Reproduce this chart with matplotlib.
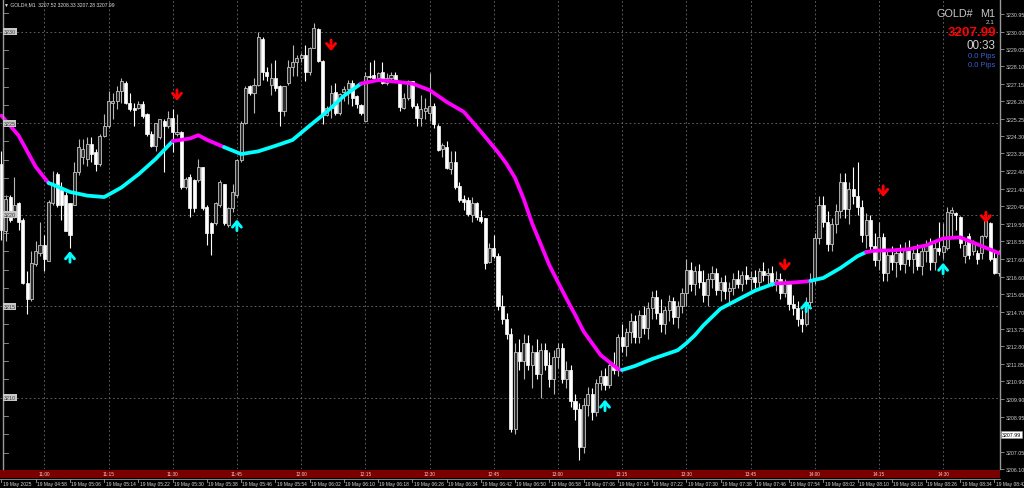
import numpy as np
import matplotlib
matplotlib.use('Agg')
import matplotlib.pyplot as plt
from matplotlib.transforms import blended_transform_factory
from matplotlib.patches import Rectangle

plt.rcParams['font.family'] = ['Liberation Sans', 'DejaVu Sans']

# ---- M1 candles, GOLD#, 10:50 .. 14:43 (terminal time) ----
opens = [
    3222.78, 3219.08, 3220.97, 3220.16, 3220.61, 3219.71, 3216.29, 3215.39, 3217.28, 3217.91,
    3218.36, 3217.46, 3220.61, 3222.23, 3221.33, 3221.06, 3220.61, 3220.52, 3222.32, 3223.14,
    3223.05, 3223.86, 3223.41, 3222.78, 3224.31, 3224.85, 3226.11, 3226.20, 3226.74, 3227.19,
    3226.11, 3225.84, 3225.84, 3226.02, 3225.48, 3224.40, 3223.77, 3224.22, 3225.12, 3224.85,
    3225.30, 3224.40, 3224.49, 3221.51, 3222.05, 3221.87, 3221.87, 3222.59, 3220.43, 3219.53,
    3219.53, 3220.52, 3221.69, 3219.44, 3220.34, 3221.06, 3222.96, 3225.03, 3227.01, 3226.65,
    3227.10, 3229.62, 3227.82, 3227.10, 3227.46, 3227.01, 3225.65, 3227.19, 3228.09, 3228.36,
    3228.54, 3228.72, 3227.82, 3229.11, 3230.16, 3228.39, 3225.47, 3225.84, 3226.70, 3225.56,
    3226.70, 3226.88, 3227.19, 3226.47, 3225.98, 3225.11, 3227.60, 3227.64, 3227.46, 3227.82,
    3227.19, 3227.46, 3227.64, 3227.19, 3225.84, 3226.38, 3227.28, 3225.93, 3225.29, 3225.65,
    3225.56, 3225.93, 3224.84, 3223.58, 3223.71, 3222.50, 3222.86, 3221.55, 3220.83, 3220.79,
    3219.98, 3220.65, 3219.85, 3219.80, 3217.40, 3218.18,
    3217.73, 3215.0, 3214.3, 3213.5, 3208.3, 3212.5, 3212.0, 3213.0, 3211.8, 3212.5,
    3211.3, 3212.6, 3211.8, 3211.0, 3212.2, 3212.7, 3211.0, 3211.5, 3209.8, 3209.4,
    3207.3, 3209.6, 3210.2, 3209.2, 3210.8, 3211.2, 3210.7, 3211.8, 3211.5, 3213.3,
    3212.8, 3213.6, 3214.2, 3213.3, 3214.5, 3213.8, 3214.9, 3215.5, 3214.6, 3214.0,
    3214.8, 3215.3, 3214.4, 3215.0, 3215.7, 3217.0, 3216.2, 3216.9, 3216.3, 3215.6,
    3216.5, 3216.8, 3215.9, 3216.3, 3215.8, 3216.0, 3216.5, 3216.2, 3216.7, 3216.5,
    3216.6, 3216.3, 3216.9, 3216.7, 3216.8, 3216.3, 3216.5, 3215.7, 3216.2, 3215.1,
    3214.9, 3214.3, 3214.0, 3215.2, 3216.5, 3218.7, 3220.5, 3219.6, 3218.4, 3219.5,
    3220.2, 3221.8, 3220.3, 3221.4, 3221.0, 3220.4, 3218.9, 3219.7, 3218.3, 3217.5,
    3218.8, 3216.8, 3217.8, 3217.4, 3217.9, 3217.3, 3218.2, 3217.6, 3217.9, 3217.2,
    3218.0, 3218.4, 3217.4, 3218.2, 3217.95, 3218.18, 3220.07, 3220.07, 3219.86, 3217.73,
    3218.81, 3218.0, 3217.91, 3217.91, 3218.81, 3219.53, 3217.64, 3216.83,
]
highs = [
    3223.50, 3221.06, 3221.06, 3222.05, 3220.70, 3219.80, 3216.92, 3218.00, 3218.54, 3219.62,
    3218.90, 3220.79, 3222.41, 3222.32, 3221.78, 3221.24, 3220.61, 3222.87, 3224.13, 3224.13,
    3224.22, 3224.22, 3223.59, 3224.40, 3225.48, 3226.74, 3226.65, 3227.01, 3227.46, 3227.28,
    3226.65, 3226.11, 3226.20, 3226.20, 3225.57, 3224.58, 3225.03, 3225.21, 3225.21, 3225.66,
    3225.75, 3225.48, 3224.58, 3222.05, 3222.23, 3221.96, 3223.05, 3222.59, 3220.52, 3219.62,
    3220.70, 3221.87, 3221.69, 3220.43, 3221.69, 3223.05, 3225.12, 3227.01, 3227.10, 3227.46,
    3229.98, 3229.71, 3228.09, 3228.27, 3228.45, 3227.10, 3227.01, 3228.45, 3229.26, 3228.72,
    3228.81, 3229.26, 3229.17, 3230.48, 3230.20, 3228.45, 3225.93, 3227.10, 3227.19, 3226.65,
    3227.01, 3227.37, 3227.37, 3226.56, 3226.05, 3227.82, 3228.36, 3228.45, 3227.82, 3228.36,
    3227.73, 3227.82, 3227.82, 3227.28, 3226.65, 3227.37, 3227.28, 3226.11, 3226.56, 3226.38,
    3227.73, 3226.11, 3224.93, 3223.94, 3224.03, 3223.49, 3223.49, 3221.78, 3221.06, 3220.97,
    3220.97, 3220.70, 3220.25, 3219.80, 3218.45, 3218.90,
    3217.9, 3215.6, 3214.6, 3213.8, 3213.0, 3213.2, 3213.5, 3213.4, 3212.9, 3213.2,
    3213.0, 3213.0, 3212.5, 3212.6, 3213.0, 3213.0, 3212.0, 3211.8, 3210.2, 3209.7,
    3210.0, 3210.6, 3210.5, 3211.0, 3211.5, 3211.6, 3212.0, 3212.5, 3213.5, 3214.0,
    3213.8, 3214.6, 3214.5, 3214.8, 3215.0, 3215.2, 3215.8, 3215.9, 3215.4, 3215.0,
    3215.6, 3215.5, 3215.3, 3216.0, 3217.6, 3217.4, 3217.2, 3217.3, 3217.0, 3216.8,
    3217.2, 3217.1, 3216.6, 3216.7, 3216.3, 3216.8, 3217.0, 3216.9, 3217.2, 3216.9,
    3217.0, 3217.1, 3217.4, 3217.1, 3217.2, 3216.9, 3216.8, 3216.5, 3216.4, 3215.6,
    3215.3, 3214.8, 3215.5, 3216.8, 3219.0, 3221.0, 3221.0, 3220.2, 3219.8, 3220.6,
    3222.3, 3222.3, 3221.8, 3222.6, 3222.9, 3220.8, 3220.1, 3220.0, 3219.0, 3219.6,
    3219.0, 3218.0, 3218.3, 3218.2, 3218.4, 3218.5, 3218.6, 3218.3, 3218.4, 3218.3,
    3218.6, 3218.7, 3218.5, 3219.6, 3219.53, 3220.43, 3220.43, 3220.16, 3219.90, 3218.63,
    3219.0, 3218.63, 3218.09, 3218.9, 3219.72, 3219.62, 3218.09, 3218.09,
]
lows = [
    3218.63, 3218.54, 3219.62, 3219.80, 3219.17, 3216.20, 3214.58, 3215.30, 3217.19, 3217.73,
    3216.92, 3217.46, 3220.52, 3220.43, 3219.71, 3219.08, 3218.18, 3220.52, 3222.14, 3222.78,
    3222.68, 3222.87, 3222.41, 3222.68, 3224.22, 3224.76, 3225.21, 3225.75, 3226.11, 3226.02,
    3225.66, 3224.85, 3225.75, 3225.30, 3224.31, 3223.68, 3223.50, 3224.13, 3222.32, 3224.76,
    3223.41, 3224.31, 3221.42, 3221.42, 3219.89, 3220.16, 3221.78, 3220.25, 3218.36, 3217.82,
    3219.44, 3220.43, 3219.44, 3219.35, 3220.16, 3220.97, 3222.87, 3224.94, 3226.56, 3225.56,
    3227.01, 3227.37, 3227.28, 3226.56, 3226.74, 3224.84, 3225.38, 3227.10, 3227.55, 3227.55,
    3228.36, 3227.28, 3227.64, 3229.08, 3228.36, 3224.93, 3225.38, 3225.29, 3225.47, 3225.47,
    3226.20, 3226.02, 3225.93, 3225.84, 3225.47, 3225.11, 3227.46, 3227.37, 3227.37, 3227.13,
    3227.10, 3227.37, 3227.28, 3225.69, 3225.75, 3226.29, 3225.84, 3224.84, 3224.84, 3225.20,
    3225.11, 3224.75, 3223.49, 3223.13, 3222.50, 3222.23, 3221.42, 3220.70, 3220.25, 3219.93,
    3219.62, 3219.71, 3219.53, 3217.01, 3217.33, 3217.64,
    3214.8, 3214.0, 3213.2, 3208.1, 3208.0, 3211.5, 3211.0, 3211.5, 3210.5, 3211.0,
    3210.0, 3211.5, 3210.6, 3210.2, 3211.6, 3210.8, 3210.5, 3209.5, 3208.8, 3206.6,
    3207.0, 3209.0, 3208.8, 3209.0, 3210.4, 3210.4, 3210.5, 3211.3, 3211.2, 3212.5,
    3212.3, 3213.0, 3213.0, 3213.0, 3213.5, 3213.2, 3214.3, 3214.3, 3213.6, 3213.5,
    3214.2, 3214.0, 3213.8, 3214.6, 3215.0, 3215.8, 3215.6, 3216.0, 3215.2, 3215.0,
    3216.0, 3215.6, 3215.3, 3215.4, 3215.1, 3215.6, 3216.0, 3215.8, 3216.2, 3215.9,
    3216.0, 3216.0, 3216.4, 3216.2, 3216.1, 3215.8, 3215.4, 3215.5, 3214.8, 3214.5,
    3213.9, 3213.6, 3213.9, 3215.0, 3216.2, 3218.4, 3219.3, 3218.0, 3218.0, 3219.0,
    3219.8, 3219.8, 3219.5, 3220.6, 3220.0, 3218.5, 3218.2, 3218.0, 3217.2, 3217.0,
    3216.4, 3216.4, 3217.0, 3216.6, 3217.0, 3216.8, 3217.2, 3216.8, 3217.0, 3216.7,
    3217.4, 3217.0, 3217.0, 3217.8, 3217.55, 3218.09, 3218.81, 3219.17, 3218.18, 3217.37,
    3217.55, 3217.82, 3217.28, 3217.55, 3218.72, 3217.46, 3216.74, 3216.65,
]
closes = [
    3219.17, 3220.88, 3219.71, 3220.52, 3219.62, 3216.29, 3215.39, 3217.37, 3218.00, 3218.36,
    3217.55, 3220.70, 3221.69, 3220.52, 3220.52, 3219.08, 3218.90, 3222.32, 3223.68, 3223.59,
    3223.86, 3223.32, 3222.78, 3224.31, 3224.85, 3226.20, 3226.20, 3226.74, 3227.28, 3226.11,
    3225.75, 3225.71, 3226.02, 3225.39, 3224.40, 3223.77, 3225.03, 3225.21, 3224.85, 3225.30,
    3224.49, 3224.49, 3221.51, 3221.96, 3220.34, 3220.34, 3222.59, 3220.34, 3218.99, 3218.99,
    3220.61, 3221.78, 3219.53, 3220.34, 3221.24, 3222.96, 3225.03, 3226.92, 3226.65, 3227.10,
    3229.71, 3227.82, 3227.55, 3227.46, 3226.92, 3225.65, 3227.01, 3228.09, 3228.36, 3228.57,
    3228.72, 3227.82, 3229.11, 3230.20, 3228.39, 3225.47, 3225.84, 3226.65, 3225.56, 3226.59,
    3226.88, 3227.19, 3226.38, 3226.02, 3225.56, 3227.55, 3227.53, 3227.49, 3227.73, 3227.19,
    3227.49, 3227.64, 3227.37, 3225.87, 3226.38, 3227.28, 3225.93, 3225.29, 3225.75, 3225.84,
    3225.93, 3224.93, 3223.53, 3223.80, 3222.56, 3222.86, 3221.51, 3220.79, 3220.70, 3220.03,
    3220.61, 3219.85, 3219.67, 3217.37, 3218.18, 3217.73,
    3215.0, 3214.3, 3213.5, 3208.3, 3212.5, 3212.0, 3213.0, 3211.8, 3212.5, 3211.3,
    3212.6, 3211.8, 3211.0, 3212.2, 3212.7, 3211.0, 3211.5, 3209.8, 3209.4, 3207.3,
    3209.6, 3210.2, 3209.2, 3210.8, 3211.2, 3210.7, 3211.8, 3211.5, 3213.3, 3212.8,
    3213.6, 3214.2, 3213.3, 3214.5, 3213.8, 3214.9, 3215.5, 3214.6, 3214.0, 3214.8,
    3215.3, 3214.4, 3215.0, 3215.7, 3217.0, 3216.2, 3216.9, 3216.3, 3215.6, 3216.5,
    3216.8, 3215.9, 3216.3, 3215.8, 3216.0, 3216.5, 3216.2, 3216.7, 3216.5, 3216.6,
    3216.3, 3216.9, 3216.7, 3216.8, 3216.3, 3216.5, 3215.7, 3216.2, 3215.1, 3214.9,
    3214.3, 3214.0, 3215.2, 3216.5, 3218.7, 3220.5, 3219.6, 3218.4, 3219.5, 3220.2,
    3221.8, 3220.3, 3221.4, 3221.0, 3220.4, 3218.9, 3219.7, 3218.3, 3217.5, 3218.8,
    3216.8, 3217.8, 3217.4, 3217.9, 3217.3, 3218.2, 3217.6, 3217.9, 3217.2, 3218.0,
    3218.4, 3217.4, 3218.2, 3218.0, 3218.27, 3220.16, 3220.25, 3219.98, 3218.45, 3218.36,
    3217.82, 3218.45, 3217.59, 3218.81, 3219.70, 3217.55, 3216.83, 3217.91,
]

# smoothed MA line, read at knots (candle index -> price)
ma_idx = [0, 4, 8, 11, 12, 16, 20, 24, 28, 32, 36, 40, 44, 46, 48, 52, 56, 60, 64, 68,
          72, 76, 80, 84, 88, 92, 96, 100, 104, 108, 112, 116, 118, 120, 122, 124, 126,
          128, 130, 132, 134, 136, 138, 140, 142, 144, 145, 148, 152, 156, 158, 160, 162,
          164, 168, 172, 176, 180, 181, 184, 188, 189, 192, 196, 200, 202, 204, 208, 212,
          216, 220, 224, 228, 232, 233]
ma_val = [3225.41, 3224.32, 3222.61, 3221.73, 3221.64, 3221.24, 3221.04, 3220.96, 3221.48,
          3222.20, 3223.04, 3224.02, 3224.16, 3224.34, 3224.09, 3223.69, 3223.31, 3223.46,
          3223.76, 3224.08, 3224.86, 3225.62, 3226.49, 3227.16, 3227.35, 3227.27, 3227.16,
          3226.81, 3226.16, 3225.62, 3224.54, 3223.41, 3222.78, 3222.00, 3220.86, 3219.51,
          3218.38, 3217.24, 3216.32, 3215.41, 3214.54, 3213.62, 3212.97, 3212.32, 3211.95,
          3211.57, 3211.51, 3211.73, 3212.11, 3212.43, 3212.59, 3212.97, 3213.41, 3213.95,
          3214.86, 3215.35, 3215.84, 3216.19, 3216.24, 3216.27, 3216.35, 3216.38, 3216.54,
          3217.08, 3217.73, 3217.95, 3218.03, 3218.05, 3218.11, 3218.32, 3218.70, 3218.76,
          3218.38, 3218.00, 3217.89]
trend_start = [0, 11, 40, 52, 84, 145, 181, 189, 202]
trend_dir = ['dn', 'up', 'dn', 'up', 'dn', 'up', 'dn', 'up', 'dn']

# signal arrows (candle index, tip price)
up_idx = [16, 55, 141, 188, 220]
up_price = [3218.00, 3219.73, 3209.89, 3215.30, 3217.37]
dn_idx = [41, 77, 183, 206, 230]
dn_price = [3226.22, 3228.94, 3216.92, 3220.97, 3219.53]

# axis texts
right_ticks = [3230.95, 3230.00, 3229.05, 3228.10, 3227.15, 3226.20, 3225.25, 3224.30,
               3223.35, 3222.40, 3221.40, 3220.45, 3219.50, 3218.55, 3217.60, 3216.60,
               3215.65, 3214.70, 3213.75, 3212.80, 3211.85, 3210.90, 3209.90, 3208.95,
               3207.05, 3206.10]
left_levels = [3230, 3225, 3220, 3215, 3210]
local_times = ['11:00', '11:15', '11:30', '11:45', '12:00', '12:15', '12:30', '12:45',
               '13:00', '13:15', '13:30', '13:45', '14:00', '14:15', '14:30']
server_times = ['19 May 2025', '19 May 04:58', '19 May 05:06', '19 May 05:14', '19 May 05:22',
                '19 May 05:30', '19 May 05:38', '19 May 05:46', '19 May 05:54', '19 May 06:02',
                '19 May 06:10', '19 May 06:18', '19 May 06:26', '19 May 06:34', '19 May 06:42',
                '19 May 06:50', '19 May 06:58', '19 May 07:06', '19 May 07:14', '19 May 07:22',
                '19 May 07:30', '19 May 07:38', '19 May 07:46', '19 May 07:54', '19 May 08:02',
                '19 May 08:10', '19 May 08:18', '19 May 08:26', '19 May 08:34', '19 May 08:42']
last_price = 3207.99

# ---- layout (pixels of a 1024x489 canvas) ----
W, H = 1024, 489
STEP, X0 = 4.28, 1.5          # px per bar, px of bar 0
PPD, Y3230 = 18.5, 33.0       # px per dollar, px row of 3230
RIGHT, BOTTOM = 1000, 470

fig = plt.figure(figsize=(W / 100, H / 100), dpi=100, facecolor='black')
ax = fig.add_axes([0, (H - BOTTOM) / H, RIGHT / W, BOTTOM / H])
ax.set_facecolor('black')
ax.set_xlim(-X0 / STEP, (RIGHT - X0) / STEP)
ax.set_ylim(3230 - (BOTTOM - Y3230) / PPD, 3230 + Y3230 / PPD)
for s in ['top', 'bottom', 'left']:
    ax.spines[s].set_visible(False)
ax.spines['right'].set_color('#9a9a9a')
ax.spines['right'].set_linewidth(1.0)
ax.set_xticks([])
ax.yaxis.tick_right()
ax.set_yticks(right_ticks)
ax.set_yticklabels([f'{v:.2f}' for v in right_ticks])
ax.tick_params(axis='y', colors='#9a9a9a', labelcolor='#d0d0d0', labelsize=3.8,
               length=3, width=0.6, pad=1.5)

ya = blended_transform_factory(ax.transAxes, ax.transData)
xf = blended_transform_factory(ax.transData, fig.transFigure)

# grid
grid_kw = dict(color='#6e6e6e', lw=0.6, ls=(0, (2, 3)), zorder=1)
for lv in left_levels:
    ax.axhline(lv, **grid_kw)
time_idx = [10 + 15 * k for k in range(len(local_times))]
for t in time_idx:
    ax.axvline(t, **grid_kw)

# candles
o, h, l, c = (np.array(v) for v in (opens, highs, lows, closes))
idx = np.arange(len(c))
bear = c < o
wick_col = np.where(bear, '#ffffff', '#b8b8b8')
ax.vlines(idx, l, h, colors=wick_col, lw=0.8, zorder=2)
body_lo = np.minimum(o, c)
body_h = np.maximum(np.abs(c - o), 0.04)
ax.bar(idx[bear], body_h[bear], bottom=body_lo[bear], width=0.72,
       color='#ffffff', edgecolor='#ffffff', linewidth=0.5, zorder=3)
ax.bar(idx[~bear], body_h[~bear], bottom=body_lo[~bear], width=0.72,
       color='#2c2c2c', edgecolor='#c4c4c4', linewidth=0.6, zorder=3)

# MA coloured by trend
ma_idx_a = np.array(ma_idx)
ma_val_a = np.array(ma_val)
bounds = trend_start + [ma_idx[-1]]
for k, d in enumerate(trend_dir):
    m = (ma_idx_a >= bounds[k]) & (ma_idx_a <= bounds[k + 1])
    ax.plot(ma_idx_a[m], ma_val_a[m], color='#ff00ff' if d == 'dn' else '#00ffff',
            lw=2.7, solid_capstyle='round', solid_joinstyle='round', zorder=4)

# arrows
ALEN = 0.6
for i, p in zip(up_idx, up_price):
    ax.annotate('', xy=(i, p), xytext=(i, p - ALEN),
                arrowprops=dict(arrowstyle='->,head_length=0.38,head_width=0.32',
                                color='#00ffff', lw=2.1, shrinkA=0, shrinkB=0), zorder=5)
for i, p in zip(dn_idx, dn_price):
    ax.annotate('', xy=(i, p), xytext=(i, p + ALEN),
                arrowprops=dict(arrowstyle='->,head_length=0.38,head_width=0.32',
                                color='#ff0000', lw=2.1, shrinkA=0, shrinkB=0), zorder=5)

# left price scale
ax.plot([3 / RIGHT] * 2, [0, 1], transform=ax.transAxes, color='#9a9a9a', lw=1.0,
        zorder=6, clip_on=False)
for p in range(3207, 3232):
    ax.plot([3 / RIGHT, 8 / RIGHT], [p, p], transform=ya, color='#9a9a9a', lw=0.6, zorder=6)
for lv in left_levels:
    ax.text(3.5 / RIGHT, lv, str(lv), transform=ya, fontsize=3.9, color='#3a3a3a',
            ha='left', va='center', zorder=7,
            bbox=dict(facecolor='#c8c8c8', edgecolor='none', pad=0.7))

# last price tag on the right scale
ax.text(1.002, last_price, f'{last_price:.2f}', transform=ya, fontsize=3.8, color='black',
        ha='left', va='center', clip_on=False,
        bbox=dict(facecolor='white', edgecolor='#9a9a9a', pad=0.7, lw=0.4))

# bottom: local-time band and server-time scale
fig.patches.append(Rectangle((0, 10 / H), RIGHT / W, 8.5 / H, transform=fig.transFigure,
                             facecolor='#7a0000', edgecolor='none', zorder=-1))
for t, lab in zip(time_idx, local_times):
    fig.text(0, 14.2 / H, lab, transform=xf, fontsize=3.4, color='#f0c8c8',
             ha='center', va='center').set_x(t)
fig.lines.append(plt.Line2D([0, RIGHT / W], [9.5 / H, 9.5 / H], transform=fig.transFigure,
                            color='#9a9a9a', lw=0.6))
for k, lab in enumerate(server_times):
    ax.plot([8 * k, 8 * k], [6.5 / H, 9.5 / H], transform=xf, color='#9a9a9a', lw=0.6,
            clip_on=False)
    ax.text(8 * k + 0.3, 4.2 / H, lab, transform=xf, fontsize=3.55, color='#d8d8d8',
            ha='left', va='center', clip_on=False)

# header texts
fig.text(4 / W, 1 - 5 / H, '\u25bc GOLD#,M1  3207.52 3208.33 3207.28 3207.99',
         fontsize=3.6, color='#e0e0e0', ha='left', va='center')
fig.text(973 / W, 1 - 14 / H, 'GOLD#', fontsize=7.8, color='#c8c8c8', ha='right', va='center')
fig.text(995 / W, 1 - 14 / H, 'M1', fontsize=7.8, color='#c8c8c8', ha='right', va='center')
fig.text(995 / W, 1 - 22 / H, '2.1', fontsize=4.6, color='#c8c8c8', ha='right', va='center')
fig.text(996 / W, 1 - 32.5 / H, f'{last_price:.2f}', fontsize=9.6, fontweight='bold',
         color='#ff0000', ha='right', va='center')
fig.text(995 / W, 1 - 46 / H, '00:33', fontsize=8.4, color='#d0d0d0', ha='right', va='center')
fig.text(995 / W, 1 - 56.5 / H, '0.0 Pips', fontsize=5.4, color='#3d5fd0', ha='right', va='center')
fig.text(995 / W, 1 - 65.5 / H, '0.0 Pips', fontsize=5.4, color='#3d5fd0', ha='right', va='center')

fig.savefig('out.png', dpi=100, facecolor='black')
